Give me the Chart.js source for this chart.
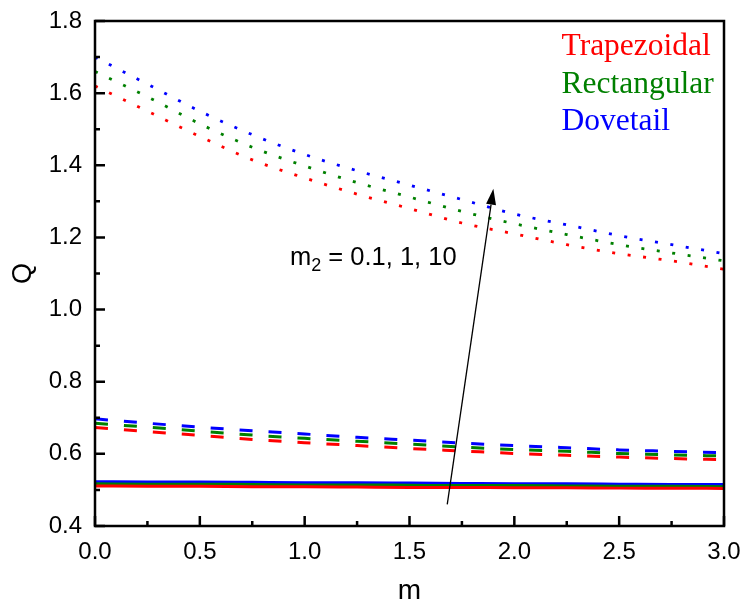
<!DOCTYPE html>
<html lang="en">
<head>
    <meta charset="UTF-8">
    <title>Q vs m</title>
    <script src="https://cdn.jsdelivr.net/npm/chart.js"></script>
    <style>
        body {
            margin: 0;
            background-color: #ffffff;
        }
        canvas {
            display: block;
        }
    </style>
</head>
<body>
    <canvas id="chart" width="747" height="608"></canvas>

    <script>
        // m values where the curves were read
        const mValues = [0, 0.25, 0.5, 0.75, 1.0, 1.25, 1.5, 1.75, 2.0, 2.25, 2.5, 2.75, 3.0];

        // m2 = 0.1 (solid)
        const trapSolid = [0.511, 0.510, 0.510, 0.509, 0.509, 0.508, 0.507, 0.507, 0.506, 0.506, 0.505, 0.505, 0.504];
        const rectSolid = [0.517, 0.516, 0.516, 0.515, 0.514, 0.514, 0.513, 0.512, 0.512, 0.511, 0.510, 0.510, 0.509];
        const doveSolid = [0.523, 0.522, 0.522, 0.521, 0.520, 0.520, 0.519, 0.518, 0.517, 0.517, 0.516, 0.515, 0.515];

        // m2 = 1 (dashed)
        const trapDashed = [0.673, 0.662, 0.651, 0.640, 0.631, 0.623, 0.615, 0.608, 0.601, 0.596, 0.591, 0.587, 0.584];
        const rectDashed = [0.685, 0.674, 0.663, 0.652, 0.643, 0.635, 0.627, 0.619, 0.612, 0.607, 0.601, 0.597, 0.594];
        const doveDashed = [0.697, 0.685, 0.674, 0.664, 0.655, 0.646, 0.638, 0.630, 0.623, 0.617, 0.611, 0.607, 0.603];

        // m2 = 10 (dotted)
        const trapDotted = [1.620, 1.550, 1.480, 1.415, 1.365, 1.320, 1.280, 1.240, 1.210, 1.180, 1.155, 1.135, 1.112];
        const rectDotted = [1.660, 1.590, 1.515, 1.450, 1.398, 1.352, 1.312, 1.272, 1.238, 1.208, 1.180, 1.157, 1.135];
        const doveDotted = [1.700, 1.625, 1.550, 1.485, 1.430, 1.385, 1.345, 1.305, 1.265, 1.235, 1.205, 1.180, 1.155];

        const xMajorTicks = [0, 0.5, 1.0, 1.5, 2.0, 2.5, 3.0];
        const xMinorTicks = [0.25, 0.75, 1.25, 1.75, 2.25, 2.75];
        const yMajorTicks = [0.4, 0.6, 0.8, 1.0, 1.2, 1.4, 1.6, 1.8];
        const yMinorTicks = [0.5, 0.7, 0.9, 1.1, 1.3, 1.5, 1.7];

        const shapeNames = ['Trapezoidal', 'Rectangular', 'Dovetail'];
        const shapeColors = ['#ff0000', '#008000', '#0000ff'];

        // annotation text and arrow, in data units
        const noteText = { x: 0.93, y: 1.124 };
        const arrowFrom = { x: 1.68, y: 0.46 };
        const arrowTo = { x: 1.90, y: 1.335 };
        const legendAt = { x: 2.225, y: [1.729, 1.622, 1.520] };

        const axisFont = 'Arial, "Liberation Sans", sans-serif';

        function pts(arr) {
            return arr.map((v, i) => ({ x: mValues[i], y: v }));
        }

        function series(arr, colorIdx, dash, width) {
            return {
                data: pts(arr),
                borderColor: shapeColors[colorIdx],
                backgroundColor: shapeColors[colorIdx],
                borderWidth: width,
                borderDash: dash,
                borderCapStyle: 'butt',
                pointRadius: 0,
                fill: false,
                cubicInterpolationMode: 'monotone'
            };
        }

        const datasets = [
            series(trapDotted, 0, [3, 12.6], 2.8),
            series(rectDotted, 1, [3, 12.6], 2.8),
            series(doveDotted, 2, [3, 12.6], 2.8),
            series(trapDashed, 0, [13, 16], 3),
            series(rectDashed, 1, [13, 16], 3),
            series(doveDashed, 2, [13, 16], 3),
            series(trapSolid, 0, [], 3),
            series(rectSolid, 1, [], 3),
            series(doveSolid, 2, [], 3)
        ];

        const decorPlugin = {
            id: 'decor',
            afterDatasetsDraw(chart) {
                const { ctx, chartArea: a, scales: { x, y } } = chart;
                ctx.save();

                // frame
                ctx.strokeStyle = '#000';
                ctx.lineWidth = 2.5;
                ctx.strokeRect(a.left, a.top, a.right - a.left, a.bottom - a.top);

                // inward ticks
                ctx.lineWidth = 2.5;
                ctx.beginPath();
                xMajorTicks.forEach(v => {
                    const px = x.getPixelForValue(v);
                    ctx.moveTo(px, a.bottom); ctx.lineTo(px, a.bottom - 10);
                });
                xMinorTicks.forEach(v => {
                    const px = x.getPixelForValue(v);
                    ctx.moveTo(px, a.bottom); ctx.lineTo(px, a.bottom - 5);
                });
                yMajorTicks.forEach(v => {
                    const py = y.getPixelForValue(v);
                    ctx.moveTo(a.left, py); ctx.lineTo(a.left + 10, py);
                });
                yMinorTicks.forEach(v => {
                    const py = y.getPixelForValue(v);
                    ctx.moveTo(a.left, py); ctx.lineTo(a.left + 5, py);
                });
                ctx.stroke();

                // arrow
                const x0 = x.getPixelForValue(arrowFrom.x), y0 = y.getPixelForValue(arrowFrom.y);
                const x1 = x.getPixelForValue(arrowTo.x), y1 = y.getPixelForValue(arrowTo.y);
                const ang = Math.atan2(y1 - y0, x1 - x0);
                const headLen = 16, headW = 5;
                ctx.lineWidth = 1.3;
                ctx.beginPath();
                ctx.moveTo(x0, y0);
                ctx.lineTo(x1 - headLen * Math.cos(ang), y1 - headLen * Math.sin(ang));
                ctx.stroke();
                ctx.fillStyle = '#000';
                ctx.beginPath();
                ctx.moveTo(x1, y1);
                ctx.lineTo(x1 - headLen * Math.cos(ang) + headW * Math.sin(ang),
                           y1 - headLen * Math.sin(ang) - headW * Math.cos(ang));
                ctx.lineTo(x1 - headLen * Math.cos(ang) - headW * Math.sin(ang),
                           y1 - headLen * Math.sin(ang) + headW * Math.cos(ang));
                ctx.closePath();
                ctx.fill();

                // m2 note
                let tx = x.getPixelForValue(noteText.x);
                const ty = y.getPixelForValue(noteText.y);
                ctx.textBaseline = 'alphabetic';
                ctx.textAlign = 'left';
                ctx.font = '25.5px ' + axisFont;
                ctx.fillText('m', tx, ty);
                tx += ctx.measureText('m').width;
                ctx.font = '18px ' + axisFont;
                ctx.fillText('2', tx, ty + 6);
                tx += ctx.measureText('2').width;
                ctx.font = '25.5px ' + axisFont;
                ctx.fillText(' = 0.1, 1, 10', tx, ty);

                // legend
                ctx.font = '31.5px "Liberation Serif", "Times New Roman", serif';
                ctx.textBaseline = 'middle';
                const lx = x.getPixelForValue(legendAt.x);
                shapeNames.forEach((name, i) => {
                    ctx.fillStyle = shapeColors[i];
                    ctx.fillText(name, lx, y.getPixelForValue(legendAt.y[i]));
                });

                ctx.restore();
            }
        };

        const ctx = document.getElementById('chart').getContext('2d');
        new Chart(ctx, {
            type: 'line',
            data: { datasets: datasets },
            options: {
                responsive: false,
                animation: false,
                layout: {
                    padding: { left: 0, top: 21, right: 23, bottom: 0 }
                },
                scales: {
                    x: {
                        type: 'linear',
                        min: 0,
                        max: 3,
                        afterFit: (scale) => {
                            scale.height = 82;
                            scale.paddingLeft = 0;
                            scale.paddingRight = 0;
                        },
                        afterBuildTicks: (scale) => {
                            scale.ticks = xMajorTicks.map(v => ({ value: v }));
                        },
                        ticks: {
                            callback: (value) => Number(value).toFixed(1),
                            color: '#000',
                            padding: 12,
                            maxRotation: 0,
                            font: { family: axisFont, size: 24 }
                        },
                        grid: { display: false, drawTicks: false },
                        border: { display: false },
                        title: {
                            display: true,
                            text: 'm',
                            color: '#000',
                            font: { family: axisFont, size: 28, lineHeight: 1 },
                            padding: { top: 0, bottom: 3 }
                        }
                    },
                    y: {
                        type: 'linear',
                        min: 0.4,
                        max: 1.8,
                        afterFit: (scale) => {
                            scale.width = 95;
                            scale.paddingTop = 0;
                            scale.paddingBottom = 0;
                        },
                        afterBuildTicks: (scale) => {
                            scale.ticks = yMajorTicks.map(v => ({ value: v }));
                        },
                        ticks: {
                            callback: (value) => Number(value).toFixed(1),
                            color: '#000',
                            padding: 13,
                            font: { family: axisFont, size: 24 }
                        },
                        grid: { display: false, drawTicks: false },
                        border: { display: false },
                        title: {
                            display: true,
                            text: 'Q',
                            color: '#000',
                            font: { family: axisFont, size: 27, lineHeight: 1 },
                            padding: { top: 10, bottom: 0 }
                        }
                    }
                },
                plugins: {
                    legend: { display: false },
                    tooltip: { enabled: false }
                }
            },
            plugins: [decorPlugin]
        });
    </script>
</body>
</html>
